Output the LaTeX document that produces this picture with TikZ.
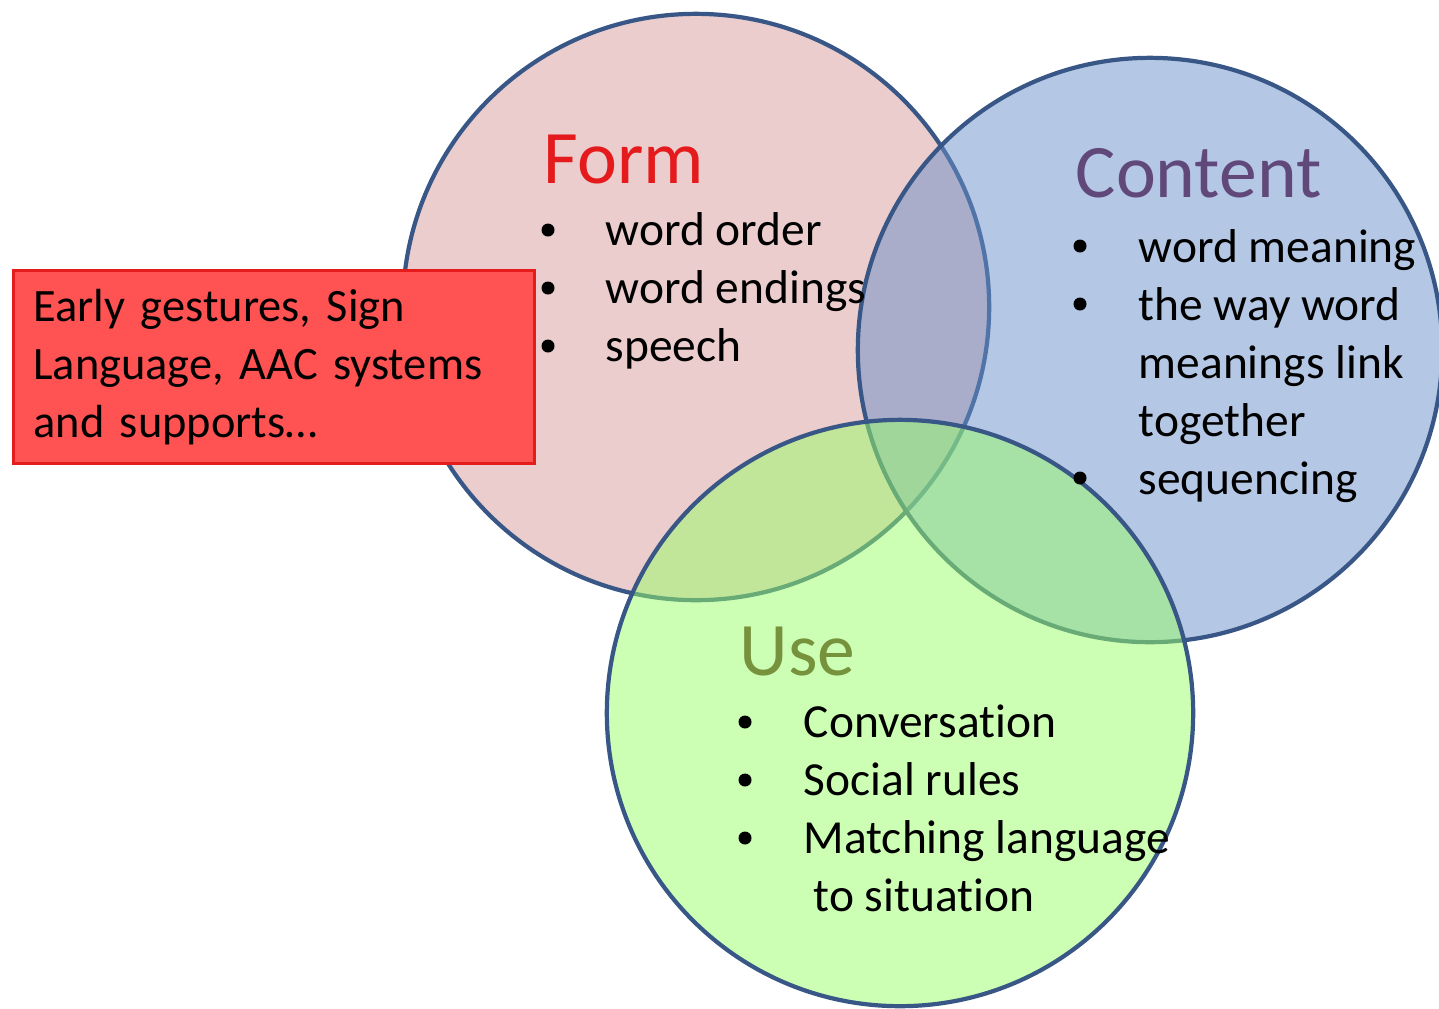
\documentclass[tikz,border=0pt]{standalone}
\usepackage{fontspec}
\setmainfont{Carlito}[Ligatures=NoCommon]
\definecolor{ringc}{RGB}{56,87,135}
\definecolor{pinkf}{RGB}{234,205,204}
\definecolor{bluef}{RGB}{105,143,201}
\definecolor{greenf}{RGB}{153,255,105}
\definecolor{boxf}{RGB}{255,82,82}
\definecolor{boxd}{RGB}{228,28,28}
\definecolor{formc}{RGB}{228,26,28}
\definecolor{contc}{RGB}{96,73,122}
\definecolor{usec}{RGB}{118,146,60}
\begin{document}
\begin{tikzpicture}[x=0.01cm,y=-0.01cm,
  ring/.style={draw=ringc, line width=1.2pt},
  body/.style={font=\fontsize{13.5}{16.5}\selectfont, anchor=base west, inner sep=0pt},
  dot/.style={circle, fill=black, minimum size=0.13cm, inner sep=0pt},
  ttl/.style={font=\fontsize{21.5}{26}\selectfont, anchor=base west, inner sep=0pt}]
\useasboundingbox (0,0) rectangle (1439,1008);
% circles
\fill[pinkf] (696,307) circle[radius=2.93cm];
\draw[ring] (696,307) circle[radius=2.93cm];
\fill[bluef, fill opacity=0.5] (1150,350) circle[radius=2.92cm];
\draw[ring] (1150,350) circle[radius=2.92cm];
\fill[greenf, fill opacity=0.5] (900,713) circle[radius=2.93cm];
\draw[ring] (900,713) circle[radius=2.93cm];
% red box
\node[draw=boxd, fill=boxf, line width=0.8pt, anchor=north west,
      minimum width=5.21cm, minimum height=1.93cm, text width=4.81cm,
      inner xsep=0.2cm, align=left, font=\fontsize{13.2}{16.4}\selectfont]
  (early) at (12,269) {Early gestures, Sign\\Language, AAC systems\\and supports…};
% Form
\node[ttl, text=formc] (form) at (543,183) {Form};
\node[dot] (fb1) at (548,230) {};
\node[body] (f1) at (605,245) {word order};
\node[dot] (fb2) at (548,288) {};
\node[body] (f2) at (605,303) {word endings};
\node[dot] (fb3) at (548,346) {};
\node[body] (f3) at (605,361) {speech};
% Content
\node[ttl, text=contc] (content) at (1075,197) {Content};
\node[dot] (cb1) at (1080,246) {};
\node[body] (c1) at (1138,262) {word meaning};
\node[dot] (cb2) at (1080,304) {};
\node[body] (c2) at (1138,320) {the way word};
\node[body] (c3) at (1138,378) {meanings link};
\node[body] (c4) at (1138,436) {together};
\node[dot] (cb3) at (1080,478) {};
\node[body] (c5) at (1138,494) {sequencing};
% Use
\node[ttl, text=usec] (use) at (739,675) {Use};
\node[dot] (ub1) at (745,722) {};
\node[body] (u1) at (803,737) {Conversation};
\node[dot] (ub2) at (745,780) {};
\node[body] (u2) at (803,795) {Social rules};
\node[dot] (ub3) at (745,838) {};
\node[body] (u3) at (803,853) {Matching language};
\node[body] (u4) at (813,911) {to situation};
\end{tikzpicture}
\end{document}
